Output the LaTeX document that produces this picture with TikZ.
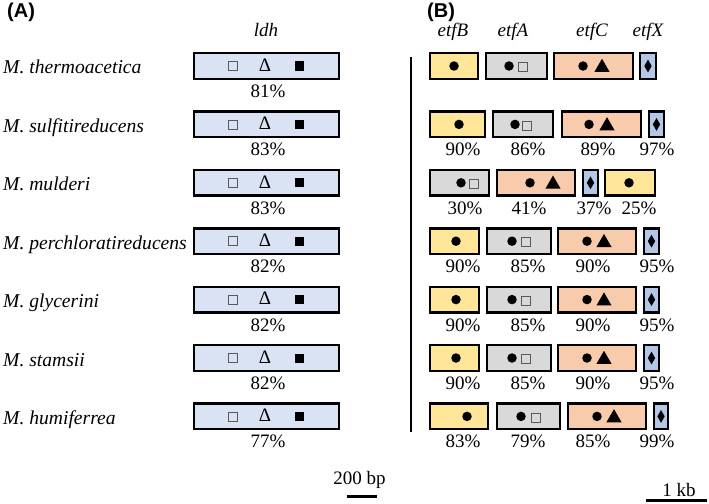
\documentclass[tikz,border=0pt]{standalone}
\usepackage{fontspec}
\setmainfont{Liberation Serif}
\newfontfamily\panelfont{Liberation Sans}
\usetikzlibrary{shapes.geometric}
\definecolor{ldhblue}{HTML}{DAE3F3}
\definecolor{etfByellow}{HTML}{FFE699}
\definecolor{etfAgray}{HTML}{D9D9D9}
\definecolor{etfCorange}{HTML}{F8CBAD}
\definecolor{etfXblue}{HTML}{B4C7E7}
\begin{document}
\begin{tikzpicture}[x=1pt, y=-1pt, font=\fontsize{19}{22}\selectfont,
  gene/.style={draw=black, line width=2.4pt, inner sep=0pt, minimum height=25.6},
  ldhbox/.style={gene, fill=ldhblue, minimum width=144.6},
  etfBbox/.style={gene, fill=etfByellow},
  etfAbox/.style={gene, fill=etfAgray},
  etfCbox/.style={gene, fill=etfCorange},
  etfXbox/.style={gene, fill=etfXblue},
  dotsym/.style={circle, fill=black, inner sep=0pt, minimum size=9.5},
  opensq/.style={rectangle, draw=black!65, line width=0.8pt, inner sep=0pt, minimum size=9},
  fullsq/.style={rectangle, fill=black, inner sep=0pt, minimum size=9},
  trisym/.style={regular polygon, regular polygon sides=3, fill=black, inner sep=0pt, minimum size=17.5},
  diasym/.style={diamond, fill=black, inner sep=0pt, minimum width=7.5, minimum height=13},
  deltasym/.style={inner sep=0pt},
  species/.style={anchor=base west, inner sep=0pt, font=\fontsize{19.6}{23}\selectfont\itshape},
  genename/.style={anchor=base, inner sep=0pt, font=\fontsize{19}{22}\selectfont\itshape},
  pct/.style={anchor=base, inner sep=0pt},
  panel/.style={anchor=base west, inner sep=0pt, font=\panelfont\bfseries\fontsize{20}{24}\selectfont}]
  \useasboundingbox (0,0) rectangle (709,503);
  % panel letters and gene names
  \node[panel] (panelA) at (7,18) {(A)};
  \node[panel] (panelB) at (427,18) {(B)};
  \node[genename] (hldh) at (266,37) {ldh};
  \node[genename] (hetfB) at (453,37) {etfB};
  \node[genename] (hetfA) at (513,37) {etfA};
  \node[genename] (hetfC) at (592,37) {etfC};
  \node[genename] (hetfX) at (648,37) {etfX};
  % species
  \node[species] (sp1) at (3,74) {M. thermoacetica};
  \node[species] (sp2) at (3,132.4) {M. sulfitireducens};
  \node[species] (sp3) at (3,190.8) {M. mulderi};
  \node[species] (sp4) at (3,249.2) {M. perchloratireducens};
  \node[species] (sp5) at (3,307.6) {M. glycerini};
  \node[species] (sp6) at (3,366) {M. stamsii};
  \node[species] (sp7) at (3,424.4) {M. humiferrea};
  % (A) ldh
  \node[ldhbox] (ldh1) at (266.5,66) {};
  \node[ldhbox] (ldh2) at (266.5,124.4) {};
  \node[ldhbox] (ldh3) at (266.5,182.8) {};
  \node[ldhbox] (ldh4) at (266.5,241.2) {};
  \node[ldhbox] (ldh5) at (266.5,299.6) {};
  \node[ldhbox] (ldh6) at (266.5,358) {};
  \node[ldhbox] (ldh7) at (266.5,416.4) {};
  \node[opensq] (lsq1) at (233,66) {};
  \node[deltasym] (ldl1) at (265,65) {Δ};
  \node[fullsq] (lfs1) at (299,66) {};
  \node[opensq] (lsq2) at (233,124.4) {};
  \node[deltasym] (ldl2) at (265,123.4) {Δ};
  \node[fullsq] (lfs2) at (299,124.4) {};
  \node[opensq] (lsq3) at (233,182.8) {};
  \node[deltasym] (ldl3) at (265,181.8) {Δ};
  \node[fullsq] (lfs3) at (299,182.8) {};
  \node[opensq] (lsq4) at (233,241.2) {};
  \node[deltasym] (ldl4) at (265,240.2) {Δ};
  \node[fullsq] (lfs4) at (299,241.2) {};
  \node[opensq] (lsq5) at (233,299.6) {};
  \node[deltasym] (ldl5) at (265,298.6) {Δ};
  \node[fullsq] (lfs5) at (299,299.6) {};
  \node[opensq] (lsq6) at (233,358) {};
  \node[deltasym] (ldl6) at (265,357) {Δ};
  \node[fullsq] (lfs6) at (299,358) {};
  \node[opensq] (lsq7) at (233,416.4) {};
  \node[deltasym] (ldl7) at (265,415.4) {Δ};
  \node[fullsq] (lfs7) at (299,416.4) {};
  \node[pct] (lp1) at (268,97.5) {81\%};
  \node[pct] (lp2) at (268,155.9) {83\%};
  \node[pct] (lp3) at (268,214.3) {83\%};
  \node[pct] (lp4) at (268,272.7) {82\%};
  \node[pct] (lp5) at (268,331.1) {82\%};
  \node[pct] (lp6) at (268,389.5) {82\%};
  \node[pct] (lp7) at (268,447.9) {77\%};
  % (B) reference line
  \coordinate (axtop) at (411,57);
  \coordinate (axbot) at (411,432);
  \draw[line width=2pt] (axtop) -- (axbot);
  % row 1
  \node[etfBbox, minimum width=47.6] (etfB1) at (454,66) {};
  \node[etfAbox, minimum width=60.6] (etfA1) at (516.5,66) {};
  \node[etfCbox, minimum width=78.6] (etfC1) at (593.5,66) {};
  \node[etfXbox, minimum width=15.6] (etfX1) at (648,66) {};
  \node[dotsym] (bd1) at (454,66) {};
  \node[dotsym] (ad1) at (509,66) {};
  \node[opensq] (as1) at (523,67) {};
  \node[dotsym] (cd1) at (583,66) {};
  \node[trisym] (ct1) at (602,67.5) {};
  \node[diasym] (xk1) at (648,66) {};
  % row 2
  \node[etfBbox, minimum width=54.6] (etfB2) at (457.5,124.4) {};
  \node[etfAbox, minimum width=59.6] (etfA2) at (523,124.4) {};
  \node[etfCbox, minimum width=78.6] (etfC2) at (601.5,124.4) {};
  \node[etfXbox, minimum width=14.6] (etfX2) at (656.5,124.4) {};
  \node[dotsym] (bd2) at (459,124.4) {};
  \node[dotsym] (ad2) at (515,124.4) {};
  \node[opensq] (as2) at (527,125.4) {};
  \node[dotsym] (cd2) at (589,124.4) {};
  \node[trisym] (ct2) at (607,125.9) {};
  \node[diasym] (xk2) at (656.5,124.4) {};
  \node[pct] (bp2) at (463,155.9) {90\%};
  \node[pct] (ap2) at (528,155.9) {86\%};
  \node[pct] (cp2) at (598,155.9) {89\%};
  \node[pct] (xp2) at (657,155.9) {97\%};
  % row 3
  \node[etfAbox, minimum width=58.6] (etfA3) at (459.5,182.8) {};
  \node[etfCbox, minimum width=77.6] (etfC3) at (536,182.8) {};
  \node[etfXbox, minimum width=14.6] (etfX3) at (590.5,182.8) {};
  \node[etfBbox, minimum width=49.6] (etfB3) at (630,182.8) {};
  \node[dotsym] (ad3) at (461,182.8) {};
  \node[opensq] (as3) at (474,183.8) {};
  \node[dotsym] (cd3) at (530,182.8) {};
  \node[trisym] (ct3) at (553,184.3) {};
  \node[diasym] (xk3) at (590.5,182.8) {};
  \node[dotsym] (bd3) at (629,182.8) {};
  \node[pct] (ap3) at (465,214.3) {30\%};
  \node[pct] (cp3) at (529,214.3) {41\%};
  \node[pct] (xp3) at (594,214.3) {37\%};
  \node[pct] (bp3) at (639,214.3) {25\%};
  % row 4
  \node[etfBbox, minimum width=48.6] (etfB4) at (454.5,241.2) {};
  \node[etfAbox, minimum width=63.6] (etfA4) at (519,241.2) {};
  \node[etfCbox, minimum width=77.6] (etfC4) at (597,241.2) {};
  \node[etfXbox, minimum width=14.6] (etfX4) at (651.5,241.2) {};
  \node[dotsym] (bd4) at (456,241.2) {};
  \node[dotsym] (ad4) at (512,241.2) {};
  \node[opensq] (as4) at (526,242.2) {};
  \node[dotsym] (cd4) at (587,241.2) {};
  \node[trisym] (ct4) at (604,242.7) {};
  \node[diasym] (xk4) at (651.5,241.2) {};
  \node[pct] (bp4) at (463,272.7) {90\%};
  \node[pct] (ap4) at (528,272.7) {85\%};
  \node[pct] (cp4) at (593,272.7) {90\%};
  \node[pct] (xp4) at (657,272.7) {95\%};
  % row 5
  \node[etfBbox, minimum width=48.6] (etfB5) at (454.5,299.6) {};
  \node[etfAbox, minimum width=63.6] (etfA5) at (519,299.6) {};
  \node[etfCbox, minimum width=77.6] (etfC5) at (597,299.6) {};
  \node[etfXbox, minimum width=14.6] (etfX5) at (651.5,299.6) {};
  \node[dotsym] (bd5) at (456,299.6) {};
  \node[dotsym] (ad5) at (512,299.6) {};
  \node[opensq] (as5) at (526,300.6) {};
  \node[dotsym] (cd5) at (587,299.6) {};
  \node[trisym] (ct5) at (604,301.1) {};
  \node[diasym] (xk5) at (651.5,299.6) {};
  \node[pct] (bp5) at (463,331.1) {90\%};
  \node[pct] (ap5) at (528,331.1) {85\%};
  \node[pct] (cp5) at (593,331.1) {90\%};
  \node[pct] (xp5) at (657,331.1) {95\%};
  % row 6
  \node[etfBbox, minimum width=48.6] (etfB6) at (454.5,358) {};
  \node[etfAbox, minimum width=63.6] (etfA6) at (519,358) {};
  \node[etfCbox, minimum width=77.6] (etfC6) at (597,358) {};
  \node[etfXbox, minimum width=14.6] (etfX6) at (651.5,358) {};
  \node[dotsym] (bd6) at (456,358) {};
  \node[dotsym] (ad6) at (512,358) {};
  \node[opensq] (as6) at (526,359) {};
  \node[dotsym] (cd6) at (587,358) {};
  \node[trisym] (ct6) at (604,359.5) {};
  \node[diasym] (xk6) at (651.5,358) {};
  \node[pct] (bp6) at (463,389.5) {90\%};
  \node[pct] (ap6) at (528,389.5) {85\%};
  \node[pct] (cp6) at (593,389.5) {90\%};
  \node[pct] (xp6) at (657,389.5) {95\%};
  % row 7
  \node[etfBbox, minimum width=57.6] (etfB7) at (459,416.4) {};
  \node[etfAbox, minimum width=62.6] (etfA7) at (528.5,416.4) {};
  \node[etfCbox, minimum width=77.6] (etfC7) at (607,416.4) {};
  \node[etfXbox, minimum width=13.6] (etfX7) at (661,416.4) {};
  \node[dotsym] (bd7) at (467,416.4) {};
  \node[dotsym] (ad7) at (521,416.4) {};
  \node[opensq] (as7) at (536,417.4) {};
  \node[dotsym] (cd7) at (597,416.4) {};
  \node[trisym] (ct7) at (614,417.9) {};
  \node[diasym] (xk7) at (661,416.4) {};
  \node[pct] (bp7) at (463,447.9) {83\%};
  \node[pct] (ap7) at (528,447.9) {79\%};
  \node[pct] (cp7) at (593,447.9) {85\%};
  \node[pct] (xp7) at (657,447.9) {99\%};
  % scale bars
  \node[pct] (bpscale) at (359.5,484) {200 bp};
  \coordinate (bpl) at (347,496);
  \coordinate (bpr) at (377,496);
  \draw[line width=3pt] (bpl) -- (bpr);
  \node[pct] (kbscale) at (679,496) {1 kb};
  \coordinate (kbl) at (646,500.5);
  \coordinate (kbr) at (707,500.5);
  \draw[line width=3pt] (kbl) -- (kbr);
\end{tikzpicture}
\end{document}
